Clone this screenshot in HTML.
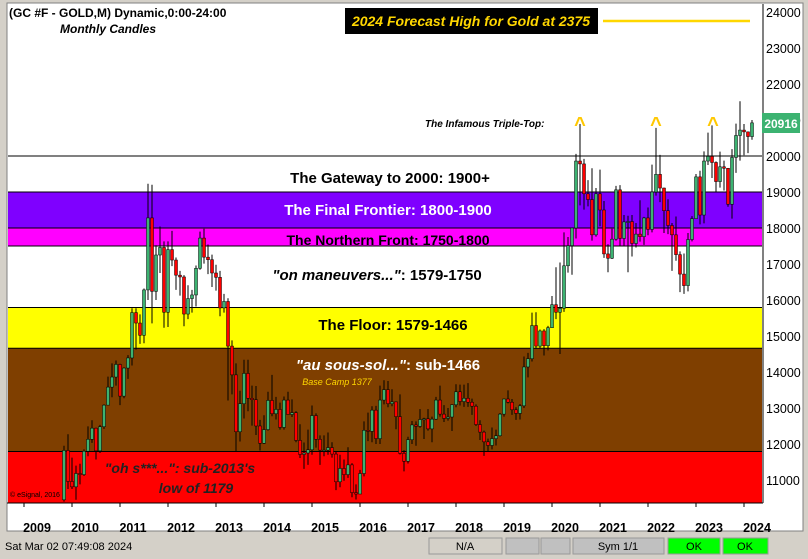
<!DOCTYPE html>
<html><head><meta charset="utf-8"><style>
html,body{margin:0;padding:0;background:#d4d0c8;}
svg{display:block;font-family:"Liberation Sans",Arial,sans-serif;}
</style></head><body>
<svg id="c" width="808" height="559" viewBox="0 0 808 559">
<rect x="0" y="0" width="808" height="559" fill="#d4d0c8"/>
<rect x="7" y="3" width="796" height="528" fill="#fff" stroke="#808080"/>
<g id="bands"></g>
<g id="candles"></g>
<g font-weight="bold" text-anchor="middle">
<text x="390" y="183" font-size="15" fill="#000">The Gateway to 2000:  1900+</text>
<text x="388" y="215" font-size="15" fill="#fff">The Final Frontier:  1800-1900</text>
<text x="388" y="245" font-size="14" fill="#000">The Northern Front:  1750-1800</text>
<text x="377" y="280" font-size="15" fill="#000"><tspan font-style="italic">"on maneuvers..."</tspan>:  1579-1750</text>
<text x="393" y="330" font-size="15" fill="#000">The Floor:  1579-1466</text>
<text x="388" y="370" font-size="15" fill="#fff"><tspan font-style="italic">"au sous-sol..."</tspan>:  sub-1466</text>
<text x="337" y="385" font-size="9" font-weight="normal" font-style="italic" fill="#ffd700">Base Camp 1377</text>
<text x="180" y="473" font-size="14" font-style="italic" fill="#222">"oh s***...":  sub-2013's</text>
<text x="196" y="493" font-size="14" font-style="italic" fill="#222">low of 1179</text>
</g>
<text x="10" y="497" font-size="7" fill="#000">© eSignal, 2016</text>
<text x="425" y="127" font-size="10" font-style="italic" font-weight="bold" fill="#000">The Infamous Triple-Top:</text>
<g font-size="20" font-weight="bold" fill="#ffc800" text-anchor="middle">
<text x="580" y="131">^</text>
<text x="656" y="131">^</text>
<text x="713" y="131">^</text>
</g>
<text x="9" y="17" font-size="12" font-weight="bold" fill="#000">(GC #F - GOLD,M) Dynamic,0:00-24:00</text>
<text x="60" y="33" font-size="12" font-weight="bold" font-style="italic" fill="#000">Monthly Candles</text>
<rect x="345" y="8" width="253" height="26" fill="#000"/>
<text x="471" y="26" font-size="14" font-weight="bold" font-style="italic" fill="#ffd700" text-anchor="middle">2024 Forecast High for Gold at 2375</text>
<line id="fline" x1="603" x2="750" stroke="#ffd700" stroke-width="2.5"/>
<line x1="763" y1="4" x2="763" y2="503" stroke="#000"/>
<line x1="7" y1="503" x2="763" y2="503" stroke="#000"/>
<g id="yaxis"></g>
<g id="xaxis"></g>
<rect x="762" y="113" width="38" height="20" fill="#3cb371"/>
<text x="781" y="128" font-size="12" font-weight="bold" fill="#fff" text-anchor="middle">20916</text>
<g font-size="11">
<rect x="0" y="532" width="808" height="27" fill="#d4d0c8"/>
<text x="5" y="550" fill="#000">Sat Mar 02 07:49:08 2024</text>
<rect x="429" y="538" width="73" height="16" fill="#d4d0c8" stroke="#999"/>
<text x="465" y="550" text-anchor="middle">N/A</text>
<rect x="506" y="538" width="33" height="16" fill="#c0c0c0" stroke="#999"/>
<rect x="541" y="538" width="29" height="16" fill="#c0c0c0" stroke="#999"/>
<rect x="573" y="538" width="91" height="16" fill="#c0c0c0" stroke="#999"/>
<text x="618" y="550" text-anchor="middle">Sym 1/1</text>
<rect x="668" y="538" width="52" height="16" fill="#00ff00" stroke="#999"/>
<text x="694" y="550" text-anchor="middle">OK</text>
<rect x="723" y="538" width="45" height="16" fill="#00ff00" stroke="#999"/>
<text x="745" y="550" text-anchor="middle">OK</text>
</g>
</svg>
<script>
// Monthly OHLC from Nov 2009 to Mar 2024 (USD/oz; axis shows x10)
const startYear = 2009, startMonth = 10; // Nov 2009 (0-based month)
const opens = [1045,1182,1096,1081,1118,1115,1180,1213,1244,1181,1248,1308,1358,1386,1421,1333,1411,1439,1565,1536,1502,1628,1828,1624,1725,1746,1566,1740,1711,1669,1664,1561,1604,1614,1688,1772,1719,1712,1675,1663,1578,1596,1472,1392,1234,1312,1396,1327,1323,1250,1202,1240,1321,1284,1296,1246,1322,1282,1287,1210,1171,1175,1184,1279,1213,1183,1183,1190,1172,1095,1132,1115,1142,1065,1061,1118,1238,1235,1294,1215,1322,1351,1312,1317,1276,1174,1152,1212,1253,1249,1268,1270,1242,1269,1322,1283,1271,1275,1309,1345,1318,1327,1316,1305,1254,1233,1206,1196,1215,1223,1283,1325,1316,1295,1285,1306,1414,1437,1529,1472,1514,1473,1523,1587,1566,1577,1695,1751,1800,1986,1978,1895,1879,1781,1895,1850,1728,1716,1769,1906,1771,1817,1818,1757,1783,1776,1828,1796,1900,1949,1911,1848,1807,1781,1726,1672,1640,1768,1826,1942,1836,1986,1999,1982,1929,1970,1966,1866,1996,2057,2072,2067,2054];
const highs = [1195,1227,1162,1140,1145,1185,1249,1266,1245,1253,1310,1387,1424,1432,1423,1413,1447,1577,1577,1560,1632,1923,1920,1752,1804,1763,1763,1792,1718,1681,1669,1641,1628,1696,1790,1798,1754,1726,1698,1681,1617,1605,1488,1424,1348,1434,1434,1362,1361,1267,1280,1345,1392,1331,1315,1332,1345,1324,1291,1255,1204,1240,1307,1285,1224,1224,1232,1205,1180,1170,1157,1191,1147,1088,1128,1263,1287,1305,1306,1362,1377,1375,1352,1317,1338,1183,1220,1264,1263,1297,1273,1297,1276,1331,1362,1308,1300,1310,1366,1365,1365,1369,1326,1310,1266,1237,1215,1246,1240,1286,1326,1349,1325,1302,1311,1443,1453,1565,1566,1518,1519,1528,1611,1691,1704,1788,1775,1795,2006,2089,1992,1933,1966,1911,1962,1875,1755,1798,1917,1919,1836,1834,1836,1814,1877,1831,1857,1976,2078,2003,1912,1880,1814,1832,1735,1729,1786,1833,1950,1959,2013,2065,2085,1985,2012,1987,1966,2019,2090,2152,2089,2068,2100];
const lows = [1040,1075,1075,1045,1088,1111,1166,1203,1157,1175,1242,1315,1330,1362,1308,1327,1381,1418,1462,1478,1480,1600,1535,1600,1675,1523,1525,1694,1628,1612,1527,1547,1565,1582,1684,1701,1672,1636,1626,1555,1565,1321,1338,1180,1207,1271,1291,1251,1225,1182,1200,1237,1277,1268,1240,1240,1285,1275,1205,1161,1131,1142,1170,1190,1142,1166,1170,1162,1072,1080,1098,1106,1052,1046,1062,1110,1208,1205,1200,1200,1310,1302,1305,1241,1171,1124,1146,1200,1195,1245,1214,1237,1205,1267,1276,1261,1265,1236,1302,1307,1303,1303,1281,1250,1211,1167,1180,1185,1196,1221,1276,1313,1281,1267,1268,1300,1385,1429,1465,1465,1446,1460,1523,1547,1450,1567,1676,1670,1771,1863,1851,1860,1765,1776,1805,1717,1677,1714,1765,1750,1750,1677,1721,1746,1762,1753,1780,1788,1890,1872,1786,1783,1681,1709,1622,1617,1624,1763,1826,1810,1813,1975,1939,1901,1912,1904,1859,1826,1953,1987,2002,2008,2045];
const closes = [1182,1096,1081,1118,1115,1180,1213,1244,1181,1248,1308,1358,1386,1421,1333,1411,1439,1565,1536,1502,1628,1828,1624,1725,1746,1566,1740,1711,1669,1664,1561,1604,1614,1688,1772,1719,1712,1675,1663,1578,1596,1472,1392,1234,1312,1396,1327,1323,1250,1202,1240,1321,1284,1296,1246,1322,1282,1287,1210,1171,1175,1184,1279,1213,1183,1183,1190,1172,1095,1132,1115,1142,1065,1061,1118,1238,1235,1294,1215,1322,1351,1312,1317,1276,1174,1152,1212,1253,1249,1268,1270,1242,1269,1322,1283,1271,1275,1309,1345,1318,1327,1316,1305,1254,1233,1206,1196,1215,1223,1283,1325,1316,1295,1285,1306,1414,1437,1529,1472,1514,1473,1523,1587,1566,1577,1695,1751,1800,1986,1978,1895,1879,1781,1895,1850,1728,1716,1769,1906,1771,1817,1818,1757,1783,1776,1828,1796,1900,1949,1911,1848,1807,1781,1726,1672,1640,1768,1826,1942,1836,1986,1999,1982,1929,1970,1966,1866,1996,2057,2072,2067,2054,2092];
const yTicks = [2400,2300,2200,2100,2000,1900,1800,1700,1600,1500,1400,1300,1200,1100];
const yearLabels = [2009,2010,2011,2012,2013,2014,2015,2016,2017,2018,2019,2020,2021,2022,2023,2024];
const bandLevels = [2000,1900,1800,1750,1579,1466,1179];
const bandColors = ['#ffffff','#7f00ff','#ff00ff','#ffffff','#ffff00','#7f3f00','#ff0000'];
const forecastHigh = 2375;

const NS='http://www.w3.org/2000/svg';
function yS(p){return 156-(p-2000)*0.36;}
function xS(year,monthIdx){return 72+(year-2010)*48+monthIdx*4;}
function mk(tag,attrs,parent){const e=document.createElementNS(NS,tag);for(const k in attrs)e.setAttribute(k,attrs[k]);parent.appendChild(e);return e;}
const PL=8,PR=762,PB=503;

const bg=document.getElementById('bands');
for(let i=0;i<bandLevels.length;i++){
  const top=yS(bandLevels[i]);
  const bot=i+1<bandLevels.length?yS(bandLevels[i+1]):PB;
  const r=mk('rect',{x:PL,y:top,width:PR-PL,height:bot-top,fill:bandColors[i]},bg);
  
  
  const l=mk('line',{x1:PL,x2:PR,y1:top,y2:top,stroke:'#000','stroke-width':1},bg);
  
  
}

const fl=document.getElementById('fline');
fl.setAttribute('y1',yS(forecastHigh));fl.setAttribute('y2',yS(forecastHigh));

const cg=document.getElementById('candles');
for(let i=0;i<closes.length;i++){
  const m=startMonth+i;
  const x=xS(startYear+Math.floor(m/12),m%12);
  const o=opens[i],c=closes[i],h=highs[i],lo=lows[i];
  const w=mk('line',{x1:x,x2:x,y1:yS(h),y2:yS(lo),stroke:'#000','stroke-width':1},cg);
  
  
  const up=c>=o;
  const t=yS(Math.max(o,c)),b=yS(Math.min(o,c));
  const r=mk('rect',{x:x-1.5,y:t,width:3,height:Math.max(1,b-t),fill:up?'#3cb371':'#ff0000',stroke:'#000','stroke-width':0.5},cg);
  
  
}

const ya=document.getElementById('yaxis');
for(const p of yTicks){
  const y=yS(p);
  const t=mk('text',{x:766,y:y+5,'font-size':12.5,fill:'#000'},ya);
  t.textContent=String(p*10);
  
  
}
const xa=document.getElementById('xaxis');
for(const yr of yearLabels){
  const x=xS(yr,0);
  const tk=mk('line',{x1:x,x2:x,y1:503,y2:507,stroke:'#000'},xa);
  
  
  const t=mk('text',{x:x+13,y:532,'font-size':12.5,'font-weight':'bold','text-anchor':'middle',fill:'#000'},xa);
  t.textContent=String(yr);
  
  
}
</script>
</body></html>
